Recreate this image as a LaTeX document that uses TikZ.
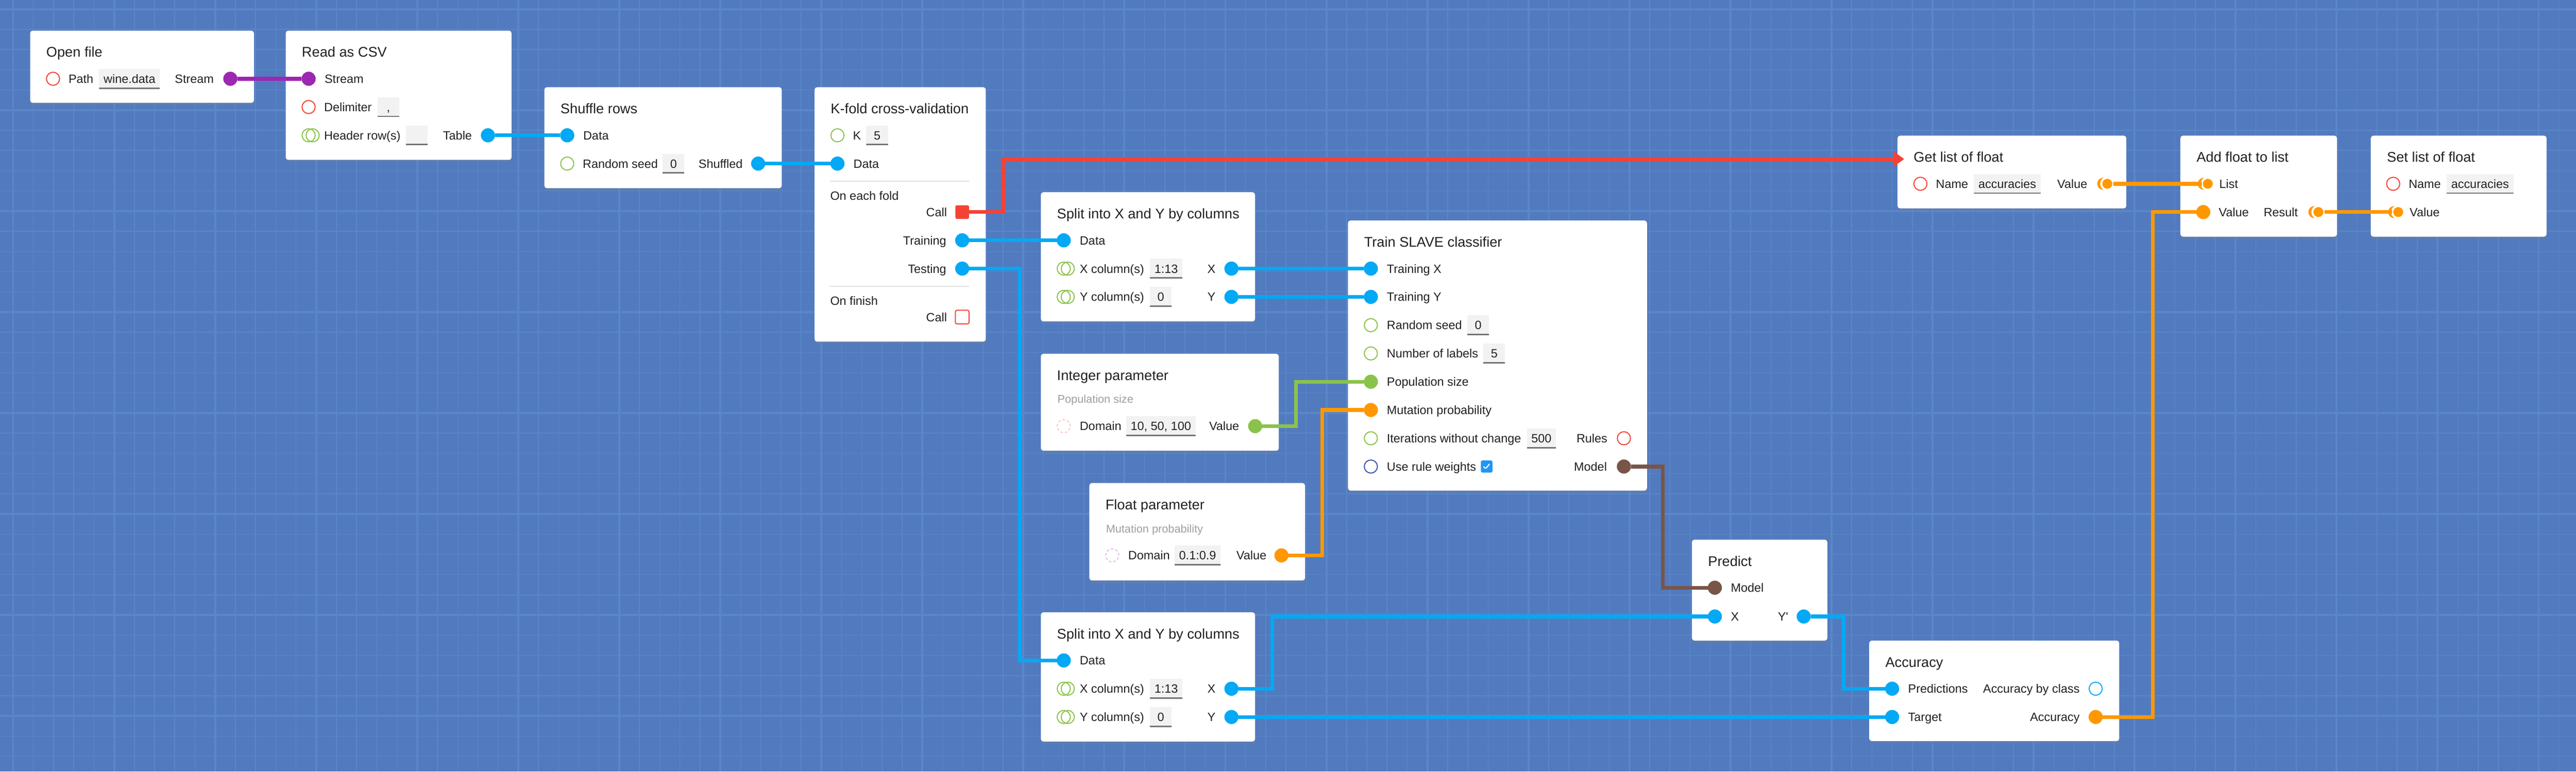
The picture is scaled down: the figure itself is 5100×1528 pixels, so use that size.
\documentclass[tikz,border=0pt]{standalone}
\usepackage{fontspec}
\setmainfont{Liberation Sans}
\usepackage{tikz}
\usetikzlibrary{calc}
\usetikzlibrary{positioning}
\usetikzlibrary{shapes}
\usetikzlibrary{arrows.meta}
\usetikzlibrary{shadows}

\definecolor{bgblue}{RGB}{82,123,191}
\definecolor{gridblue}{RGB}{89,135,200}
\definecolor{ink}{RGB}{33,33,33}
\definecolor{subgray}{RGB}{158,158,158}
\definecolor{fieldgray}{RGB}{242,242,242}
\definecolor{fieldline}{RGB}{117,117,117}
\definecolor{sepgray}{RGB}{224,224,224}
\definecolor{pblue}{RGB}{3,169,244}
\definecolor{ppurple}{RGB}{156,39,176}
\definecolor{pgreen}{RGB}{139,195,74}
\definecolor{porange}{RGB}{255,152,0}
\definecolor{pbrown}{RGB}{121,85,72}
\definecolor{pred}{RGB}{244,67,54}
\definecolor{pindigo}{RGB}{63,81,181}
\definecolor{chkblue}{RGB}{33,150,243}

\begin{document}
\begin{tikzpicture}[x=0.1mm, y=-0.1mm,
	box/.style={fill=white, rounded corners=0.5mm, anchor=north west, inner sep=0,
		drop shadow={shadow xshift=0mm, shadow yshift=-0.5mm, opacity=0.22}},
	ttl/.style={anchor=west, inner sep=0, text=ink, font=\fontsize{7.9pt}{9pt}\selectfont, text height=2mm, text depth=0mm},
	subttl/.style={anchor=west, inner sep=0, text=subgray, font=\fontsize{6.3pt}{7.5pt}\selectfont, text height=1.58mm, text depth=0mm},
	lbl/.style={inner sep=0, text=ink, font=\fontsize{6.8pt}{8pt}\selectfont, text height=1.72mm, text depth=0mm},
	field/.style={lbl, fill=fieldgray, minimum width=4.3mm, minimum height=3.9mm, inner xsep=0.9mm,
		path picture={\draw[fieldline, line width=0.5mm] (path picture bounding box.south west) -- (path picture bounding box.south east);}},
	sock/.style={circle, fill=#1, minimum size=2.8mm, inner sep=0, outer sep=0},
	hole/.style={circle, draw=#1, line width=0.2mm, minimum size=2.6mm, inner sep=0, outer sep=0},
	rings/.style={hole=#1, preaction={draw=#1, line width=0.2mm, transform canvas={xshift=0.8mm}}},
	listsock/.style={circle, fill=#1, draw=white, line width=0.4mm, minimum size=2.4mm, inner sep=0, outer sep=0,
		preaction={fill=#1, draw=none, transform canvas={xshift=-0.8mm}}},
	callbox/.style={rectangle, rounded corners=0.3mm, minimum size=2.7mm, inner sep=0, outer sep=0},
	chk/.style={rectangle, fill=chkblue, rounded corners=0.3mm, minimum width=2.3mm, minimum height=2.4mm, inner sep=0,
		path picture={\draw[white, line width=0.22mm] ([shift={(-0.6mm,0mm)}]path picture bounding box.center) -- ++(0.4mm,-0.45mm) -- ++(0.75mm,0.95mm);}},
	wire/.style={draw=#1, line width=0.75mm},
	sepline/.style={draw=sepgray, line width=0.2mm},
	gridline/.style={draw=gridblue, line width=#1}
]
	\useasboundingbox (0,0) rectangle (5100,1528);
	\fill[bgblue] (0,0) rectangle (5100,1528);
	\foreach \gx in {26,66,...,5100} \draw[gridline=0.15mm] (\gx,0) -- (\gx,1528);
	\foreach \gy in {18,58,...,1528} \draw[gridline=0.15mm] (0,\gy) -- (5100,\gy);
	\foreach \gx in {26,226,...,5100} \draw[gridline=0.4mm] (\gx,0) -- (\gx,1528);
	\foreach \gy in {18,218,...,1528} \draw[gridline=0.4mm] (0,\gy) -- (5100,\gy);

	\node[box, minimum width=44.3mm, minimum height=14.3mm] (of) at (59,60) {};
	\node[box, minimum width=44.7mm, minimum height=25.6mm] (csv) at (565,60) {};
	\node[box, minimum width=47mm, minimum height=20mm] (shf) at (1077,172) {};
	\node[box, minimum width=33.9mm, minimum height=50.4mm] (kf) at (1612,172) {};
	\node[box, minimum width=42.4mm, minimum height=25.6mm] (spa) at (2060,380) {};
	\node[box, minimum width=59.2mm, minimum height=53.5mm] (tr) at (2668,436) {};
	\node[box, minimum width=47.1mm, minimum height=19.2mm] (int) at (2060,700) {};
	\node[box, minimum width=42.7mm, minimum height=19.3mm] (flt) at (2156,956) {};
	\node[box, minimum width=26.8mm, minimum height=20mm] (pr) at (3349,1068) {};
	\node[box, minimum width=42.4mm, minimum height=25.6mm] (spb) at (2060,1212) {};
	\node[box, minimum width=49.5mm, minimum height=19.9mm] (acc) at (3700,1268) {};
	\node[box, minimum width=45.3mm, minimum height=14.4mm] (gl) at (3756,268) {};
	\node[box, minimum width=31mm, minimum height=20mm] (af) at (4316,268) {};
	\node[box, minimum width=34.8mm, minimum height=20mm] (sl) at (4693,268) {};

	\node[ttl] (oft) at (91,103) {Open file};
	\node[hole=pred] (ofpath) at (105,156) {};
	\node[lbl, right=1.7mm of ofpath] (ofpathl) {Path};
	\node[field, right=1mm of ofpathl] (ofpathv) {wine.data};
	\node[sock=ppurple] (ofout) at (456,156) {};
	\node[lbl, left=1.8mm of ofout] (ofoutl) {Stream};

	\node[ttl] (csvt) at (597,103) {Read as CSV};
	\node[sock=ppurple] (csvin) at (611,156) {};
	\node[lbl, right=1.7mm of csvin] (csvinl) {Stream};
	\node[hole=pred] (csvdel) at (611,212) {};
	\node[lbl, right=1.7mm of csvdel] (csvdell) {Delimiter};
	\node[field, right=1mm of csvdell] (csvdelv) {,};
	\node[rings=pgreen] (csvhdr) at (611,268) {};
	\node[lbl, right=1.7mm of csvhdr] (csvhdrl) {Header row(s)};
	\node[field, right=0.9mm of csvhdrl] (csvhdrv) {};
	\node[sock=pblue] (csvout) at (966,268) {};
	\node[lbl, left=1.7mm of csvout] (csvoutl) {Table};

	\node[ttl] (shft) at (1109,215) {Shuffle rows};
	\node[sock=pblue] (shfin) at (1123,268) {};
	\node[lbl, right=1.7mm of shfin] (shfinl) {Data};
	\node[hole=pgreen] (shfseed) at (1123,324) {};
	\node[lbl, right=1.7mm of shfseed] (shfseedl) {Random seed};
	\node[field, right=0.8mm of shfseedl] (shfseedv) {0};
	\node[sock=pblue] (shfout) at (1501,324) {};
	\node[lbl, left=1.6mm of shfout] (shfoutl) {Shuffled};

	\node[ttl] (kft) at (1644,215) {K-fold cross-validation};
	\node[hole=pgreen] (kfk) at (1658,268) {};
	\node[lbl, right=1.7mm of kfk] (kfkl) {K};
	\node[field, right=0.9mm of kfkl] (kfkv) {5};
	\node[sock=pblue] (kfin) at (1658,324) {};
	\node[lbl, right=1.7mm of kfin] (kfinl) {Data};
	\draw[sepline] (1643,359) -- (1919,359);
	\node[lbl, anchor=west] (kffold) at (1643,388) {On each fold};
	\node[callbox, fill=pred] (kfcall) at (1905,420) {};
	\node[lbl, left=1.6mm of kfcall] (kfcalll) {Call};
	\node[sock=pblue] (kftr) at (1905,476) {};
	\node[lbl, left=1.7mm of kftr] (kftrl) {Training};
	\node[sock=pblue] (kfte) at (1905,532) {};
	\node[lbl, left=1.7mm of kfte] (kftel) {Testing};
	\draw[sepline] (1643,567) -- (1919,567);
	\node[lbl, anchor=west] (kffin) at (1643,596) {On finish};
	\node[callbox, draw=pred, line width=0.2mm] (kfend) at (1905,628) {};
	\node[lbl, left=1.6mm of kfend] (kfendl) {Call};

	\node[ttl] (spat) at (2092,423) {Split into X and Y by columns};
	\node[sock=pblue] (spain) at (2106,476) {};
	\node[lbl, right=1.7mm of spain] (spainl) {Data};
	\node[rings=pgreen] (spaxc) at (2106,532) {};
	\node[lbl, right=1.8mm of spaxc] (spaxcl) {X column(s)};
	\node[field, right=1mm of spaxcl] (spaxcv) {1:13};
	\node[rings=pgreen] (spayc) at (2106,588) {};
	\node[lbl, right=1.8mm of spayc] (spaycl) {Y column(s)};
	\node[field, right=1mm of spaycl] (spaycv) {0};
	\node[sock=pblue] (spax) at (2438,532) {};
	\node[lbl, left=1.7mm of spax] (spaxl) {X};
	\node[sock=pblue] (spay) at (2438,588) {};
	\node[lbl, left=1.7mm of spay] (spayl) {Y};

	\node[ttl] (trt) at (2700,479) {Train SLAVE classifier};
	\node[sock=pblue] (trtx) at (2714,532) {};
	\node[lbl, right=1.7mm of trtx] (trtxl) {Training X};
	\node[sock=pblue] (trty) at (2714,588) {};
	\node[lbl, right=1.7mm of trty] (trtyl) {Training Y};
	\node[hole=pgreen] (trseed) at (2714,644) {};
	\node[lbl, right=1.8mm of trseed] (trseedl) {Random seed};
	\node[field, right=0.9mm of trseedl] (trseedv) {0};
	\node[hole=pgreen] (trlab) at (2714,700) {};
	\node[lbl, right=1.8mm of trlab] (trlabl) {Number of labels};
	\node[field, right=0.9mm of trlabl] (trlabv) {5};
	\node[sock=pgreen] (trpop) at (2714,756) {};
	\node[lbl, right=1.7mm of trpop] (trpopl) {Population size};
	\node[sock=porange] (trmut) at (2714,812) {};
	\node[lbl, right=1.7mm of trmut] (trmutl) {Mutation probability};
	\node[hole=pgreen] (trit) at (2714,868) {};
	\node[lbl, right=1.8mm of trit] (tritl) {Iterations without change};
	\node[field, right=1mm of tritl] (tritv) {500};
	\node[hole=pred] (trrules) at (3215,868) {};
	\node[lbl, left=1.9mm of trrules] (trrulesl) {Rules};
	\node[hole=pindigo] (trw) at (2714,924) {};
	\node[lbl, right=1.8mm of trw] (trwl) {Use rule weights};
	\node[chk, right=0.8mm of trwl] (trwc) {};
	\node[sock=pbrown] (trmod) at (3215,924) {};
	\node[lbl, left=1.9mm of trmod] (trmodl) {Model};

	\node[ttl] (intt) at (2092,743) {Integer parameter};
	\node[subttl] (ints) at (2093,790) {Population size};
	\node[hole=pred!30, dash pattern=on 0.5mm off 0.4mm] (intdom) at (2106,844) {};
	\node[lbl, right=1.8mm of intdom] (intdoml) {Domain};
	\node[field, right=0.8mm of intdoml] (intdomv) {10, 50, 100};
	\node[sock=pgreen] (intout) at (2485,844) {};
	\node[lbl, left=1.7mm of intout] (intoutl) {Value};

	\node[ttl] (fltt) at (2188,999) {Float parameter};
	\node[subttl] (flts) at (2189,1047) {Mutation probability};
	\node[hole=ppurple!30, dash pattern=on 0.5mm off 0.4mm] (fltdom) at (2202,1100) {};
	\node[lbl, right=1.8mm of fltdom] (fltdoml) {Domain};
	\node[field, right=0.8mm of fltdoml] (fltdomv) {0.1:0.9};
	\node[sock=porange] (fltout) at (2537,1100) {};
	\node[lbl, left=1.5mm of fltout] (fltoutl) {Value};

	\node[ttl] (prt) at (3381,1111) {Predict};
	\node[sock=pbrown] (prmod) at (3395,1164) {};
	\node[lbl, right=1.7mm of prmod] (prmodl) {Model};
	\node[sock=pblue] (prx) at (3395,1221) {};
	\node[lbl, right=1.7mm of prx] (prxl) {X};
	\node[sock=pblue] (prout) at (3571,1221) {};
	\node[lbl, left=1.6mm of prout] (proutl) {Y\textquotesingle};

	\node[ttl] (spbt) at (2092,1255) {Split into X and Y by columns};
	\node[sock=pblue] (spbin) at (2106,1308) {};
	\node[lbl, right=1.7mm of spbin] (spbinl) {Data};
	\node[rings=pgreen] (spbxc) at (2106,1364) {};
	\node[lbl, right=1.8mm of spbxc] (spbxcl) {X column(s)};
	\node[field, right=1mm of spbxcl] (spbxcv) {1:13};
	\node[rings=pgreen] (spbyc) at (2106,1420) {};
	\node[lbl, right=1.8mm of spbyc] (spbycl) {Y column(s)};
	\node[field, right=1mm of spbycl] (spbycv) {0};
	\node[sock=pblue] (spbx) at (2438,1364) {};
	\node[lbl, left=1.7mm of spbx] (spbxl) {X};
	\node[sock=pblue] (spby) at (2438,1420) {};
	\node[lbl, left=1.7mm of spby] (spbyl) {Y};

	\node[ttl] (acct) at (3732,1311) {Accuracy};
	\node[sock=pblue] (accpr) at (3746,1364) {};
	\node[lbl, right=1.7mm of accpr] (accprl) {Predictions};
	\node[sock=pblue] (acctg) at (3746,1420) {};
	\node[lbl, right=1.7mm of acctg] (acctgl) {Target};
	\node[hole=pblue] (accbc) at (4149,1364) {};
	\node[lbl, left=1.8mm of accbc] (accbcl) {Accuracy by class};
	\node[sock=porange] (accout) at (4149,1420) {};
	\node[lbl, left=1.7mm of accout] (accoutl) {Accuracy};

	\node[ttl] (glt) at (3788,311) {Get list of float};
	\coordinate (glin) at (3770,315);
	\node[hole=pred] (glname) at (3802,364) {};
	\node[lbl, right=1.7mm of glname] (glnamel) {Name};
	\node[field, right=1mm of glnamel] (glnamev) {accuracies};
	\node[listsock=porange] (glout) at (4172,364) {};
	\node[lbl, left=2.7mm of glout] (gloutl) {Value};

	\node[ttl] (aft) at (4348,311) {Add float to list};
	\node[listsock=porange] (aflist) at (4371,364) {};
	\node[lbl, right=1mm of aflist] (aflistl) {List};
	\node[sock=porange] (afval) at (4362,420) {};
	\node[lbl, right=1.6mm of afval] (afvall) {Value};
	\node[listsock=porange] (afres) at (4590,420) {};
	\node[lbl, left=2.8mm of afres] (afresl) {Result};

	\node[ttl] (slt) at (4725,311) {Set list of float};
	\node[hole=pred] (slname) at (4738,364) {};
	\node[lbl, right=1.7mm of slname] (slnamel) {Name};
	\node[field, right=1mm of slnamel] (slnamev) {accuracies};
	\node[listsock=porange] (slval) at (4748,420) {};
	\node[lbl, right=1mm of slval] (slvall) {Value};

	\coordinate (rb) at (1986,315);
	\coordinate (tb) at (2019,1308);
	\coordinate (gb) at (2566,756);
	\coordinate (ob) at (2618,812);
	\coordinate (bb) at (3292,1164);
	\coordinate (xb) at (2519,1221);
	\coordinate (yb) at (3650,1364);
	\coordinate (ab) at (4262,420);

	\draw[wire=ppurple] (ofout) -- (csvin);
	\draw[wire=pblue] (csvout) -- (shfin);
	\draw[wire=pblue] (shfout) -- (kfin);
	\draw[wire=pred, -{Triangle[length=2.2mm, width=3mm]}] (kfcall) -| (rb) -- (glin);
	\draw[wire=pblue] (kftr) -- (spain);
	\draw[wire=pblue] (kfte) -| (tb) -- (spbin);
	\draw[wire=pblue] (spax) -- (trtx);
	\draw[wire=pblue] (spay) -- (trty);
	\draw[wire=pgreen] (intout) -| (gb) -- (trpop);
	\draw[wire=porange] (fltout) -| (ob) -- (trmut);
	\draw[wire=pbrown] (trmod) -| (bb) -- (prmod);
	\draw[wire=pblue] (spbx) -| (xb) -- (prx);
	\draw[wire=pblue] (spby) -- (acctg);
	\draw[wire=pblue] (prout) -| (yb) -- (accpr);
	\draw[wire=porange] (accout) -| (ab) -- (afval);
	\draw[wire=porange] (glout) -- (aflist);
	\draw[wire=porange] (afres) -- (slval);
\end{tikzpicture}
\end{document}
